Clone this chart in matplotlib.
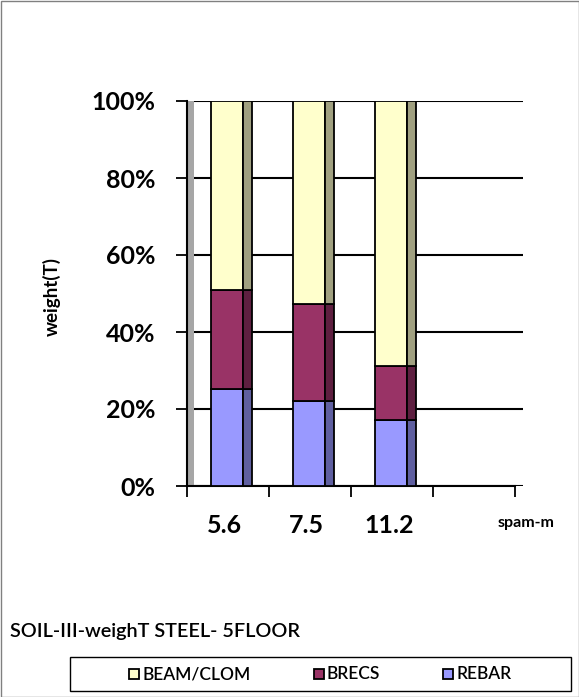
import matplotlib
matplotlib.use("Agg")
import matplotlib.pyplot as plt
from matplotlib.patches import Rectangle
import numpy as np

categories = ["5.6", "7.5", "11.2"]
series_names = ["BEAM/CLOM", "BRECS", "REBAR"]
rebar = [25.2, 22.0, 17.1]
brecs = [25.7, 25.3, 14.1]
beam = [49.1, 52.7, 68.8]
yticks = [0, 20, 40, 60, 80, 100]

front_colors = {"REBAR": "#9999FF", "BRECS": "#993366", "BEAM/CLOM": "#FFFFCC"}
side_colors = {"REBAR": "#5F5FA0", "BRECS": "#5E1F40", "BEAM/CLOM": "#A0A080"}

FONT = "Lato"
W, H = 579, 697
fig = plt.figure(figsize=(W / 100, H / 100), dpi=100)
ax = fig.add_axes([187 / W, 1 - 486 / H, 336 / W, 385 / H])

x = np.arange(len(categories))
front_w = 32 / 82
side_w = 9 / 82
front_left = x - 17 / 82

stack = [("REBAR", rebar), ("BRECS", brecs), ("BEAM/CLOM", beam)]
bottom = np.zeros(len(categories))
for name, vals in stack:
    vals = np.array(vals)
    ax.bar(front_left, vals, width=front_w, bottom=bottom, align="edge",
           color=front_colors[name], edgecolor="black", linewidth=1.3, zorder=3)
    ax.bar(front_left + front_w, vals, width=side_w, bottom=bottom, align="edge",
           color=side_colors[name], edgecolor="black", linewidth=1.3, zorder=3)
    bottom = bottom + vals

# back wall strip
ax.add_patch(Rectangle((-0.5, 0), 7 / 82, 100, facecolor="#A6A6A6",
                       edgecolor="none", zorder=1))

ax.set_xlim(-0.5, 3.6)
ax.set_ylim(0, 100)
ax.set_yticks(yticks)
ax.set_yticklabels([f"{v}%" for v in yticks], fontsize=18, fontweight="bold",
                   family=FONT)
ax.yaxis.grid(True, color="black", linewidth=1.5, zorder=0)
ax.set_axisbelow(True)
ax.set_xticks([-0.5, 0.5, 1.5, 2.5, 3.5])
ax.set_xticklabels([])
ax.tick_params(axis="both", direction="out", length=8, width=1.3, color="black")
ax.tick_params(axis="y", pad=15)
for i, c in enumerate(categories):
    ax.text(i - 3 / 82, -7.2, c, ha="center", va="top", fontsize=18,
            fontweight="bold", family=FONT, transform=ax.transData)
for s in ["top", "right"]:
    ax.spines[s].set_visible(False)
ax.spines["left"].set_linewidth(1.5)
ax.spines["bottom"].set_linewidth(1.5)
ax.spines["bottom"].set_bounds(-0.5, 3.5)

fig.text(52 / W, 1 - 297 / H, "weight(T)", rotation=90, ha="center", va="center",
         fontsize=13.5, fontweight="bold", family=FONT)
fig.text(526 / W, 1 - 523 / H, "spam-m", ha="center", va="center",
         fontsize=11.5, fontweight="bold", family=FONT)
fig.text(10 / W, 1 - 632 / H, "SOIL-III-weighT STEEL- 5FLOOR", ha="left",
         va="center", fontsize=14.3, family=FONT, fontweight="semibold")

# legend box
fig.patches.append(Rectangle((70 / W, 1 - 691 / H), 501 / W, 34 / H,
                             transform=fig.transFigure, facecolor="white",
                             edgecolor="black", linewidth=1.0))
leg_x = [134, 319, 448]
for name, lx in zip(series_names, leg_x):
    fig.patches.append(Rectangle(((lx - 5) / W, 1 - 679 / H), 10 / W, 10 / H,
                                 transform=fig.transFigure,
                                 facecolor=front_colors[name],
                                 edgecolor="black", linewidth=1.3))
    fig.text((lx + 8) / W, 1 - 674 / H, name, ha="left", va="center",
             fontsize=12.5, fontweight="semibold", family=FONT)

# outer border
fig.patches.append(Rectangle((0.5 / W, 0.5 / H), (W - 1) / W, (H - 1) / H,
                             transform=fig.transFigure, facecolor="none",
                             edgecolor="#808080", linewidth=1.0))

fig.savefig("out.png", dpi=100)
